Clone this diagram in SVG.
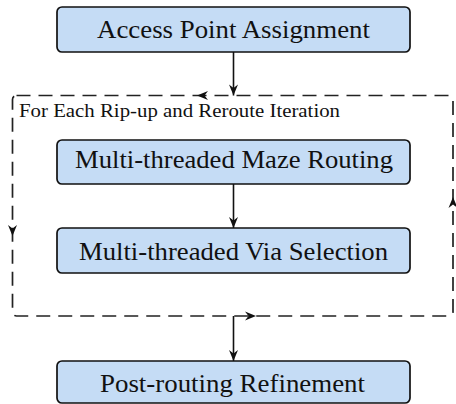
<svg xmlns="http://www.w3.org/2000/svg" xmlns:xlink="http://www.w3.org/1999/xlink" width="456" height="404" viewBox="0 0 456 404">
<style>
.box{fill:#c5dcf5;stroke:#111;stroke-width:1.7}
.lbl{font-family:"Liberation Serif","Times New Roman",serif;font-size:25px;fill:#111;text-anchor:middle}
.cap{font-family:"Liberation Serif","Times New Roman",serif;font-size:18px;fill:#111}
.edge{fill:none;stroke:#111;stroke-width:1.6}
.loop{fill:none;stroke:#222;stroke-width:1.7;stroke-dasharray:14 8}
.head{fill:#111}
</style>
<defs>
<path id="hd" d="M0,0 L-11,-4.5 L-7.5,0 L-11,4.5 Z"/>
<marker id="arr" markerUnits="userSpaceOnUse" markerWidth="14" markerHeight="12" viewBox="-12 -6 14 12" refX="0" refY="0" orient="auto">
<path d="M0,0 L-11,-4.5 L-7.5,0 L-11,4.5 Z" fill="#111"/>
</marker>
</defs>
<g id="loop">
<rect class="loop" x="12.5" y="95.5" width="440.5" height="220.5" rx="4"/>
<text class="cap" x="19" y="116.5" textLength="321" lengthAdjust="spacingAndGlyphs">For Each Rip-up and Reroute Iteration</text>
<use xlink:href="#hd" class="head" transform="translate(197,95.5) rotate(180)"/>
<use xlink:href="#hd" class="head" transform="translate(12.5,236) rotate(90)"/>
<use xlink:href="#hd" class="head" transform="translate(256,316)"/>
<use xlink:href="#hd" class="head" transform="translate(453,197) rotate(-90)"/>
</g>
<g id="connectors">
<path class="edge" d="M233.5,52 V95.5" marker-end="url(#arr)"/>
<path class="edge" d="M233.5,184 V228" marker-end="url(#arr)"/>
<path class="edge" d="M233.5,316 V361" marker-end="url(#arr)"/>
</g>
<g id="n1">
<rect class="box" x="57" y="7" width="353" height="45" rx="5"/>
<text class="lbl" x="233.5" y="37.5" textLength="273" lengthAdjust="spacingAndGlyphs">Access Point Assignment</text>
</g>
<g id="n2">
<rect class="box" x="57" y="140" width="353" height="44" rx="5"/>
<text class="lbl" x="234" y="167.5" textLength="318" lengthAdjust="spacingAndGlyphs">Multi-threaded Maze Routing</text>
</g>
<g id="n3">
<rect class="box" x="57" y="228" width="353" height="45" rx="5"/>
<text class="lbl" x="233.5" y="259.5" textLength="309" lengthAdjust="spacingAndGlyphs">Multi-threaded Via Selection</text>
</g>
<g id="n4">
<rect class="box" x="57" y="361" width="353" height="42" rx="5"/>
<text class="lbl" x="232.5" y="392" textLength="265" lengthAdjust="spacingAndGlyphs">Post-routing Refinement</text>
</g>
</svg>
